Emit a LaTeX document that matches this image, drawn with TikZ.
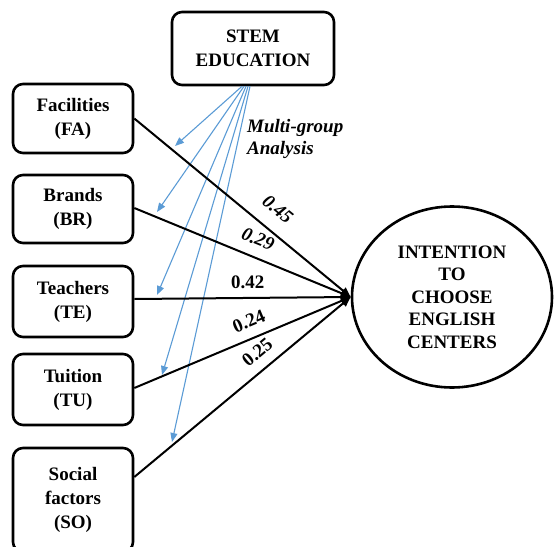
\documentclass[tikz,border=0pt]{standalone}
\usepackage{fontspec}
\setmainfont{Liberation Serif}
\usetikzlibrary{arrows.meta,shapes.geometric}
\definecolor{mgablue}{HTML}{5B9BD5}

\begin{document}
\begin{tikzpicture}[
  x=1pt, y=-1pt,
  font=\fontsize{19}{24}\selectfont\bfseries,
  factorbox/.style={draw, line width=2.6pt, rounded corners=10pt, minimum width=120pt, align=center, inner sep=0pt},
  intentellipse/.style={ellipse, draw, line width=2.6pt, minimum width=200pt, minimum height=181pt, align=center, inner sep=0pt, font=\fontsize{19}{22.5}\selectfont\bfseries},
  pathline/.style={line width=2pt, -{Triangle[length=10pt,width=8pt]}},
  groupline/.style={mgablue, line width=1.1pt, -{Triangle[length=9pt,width=7pt]}},
  coeflabel/.style={sloped, inner sep=0pt}
]
\useasboundingbox (0,0) rectangle (554,546);

% Moderator on top
\node[factorbox, minimum width=162pt, minimum height=73pt] (stem) at (253,48.5) {STEM\\EDUCATION};

% Factor boxes on the left
\node[factorbox, minimum height=69pt] (fa) at (73,118.5) {Facilities\\(FA)};
\node[factorbox, minimum height=68pt] (br) at (73,209) {Brands\\(BR)};
\node[factorbox, minimum height=71pt] (te) at (73,301.5) {Teachers\\(TE)};
\node[factorbox, minimum height=71pt] (tu) at (73,389.5) {Tuition\\(TU)};
\node[factorbox, minimum height=104pt] (so) at (73,500) {Social\\factors\\(SO)};

% Outcome ellipse
\node[intentellipse] (intent) at (452,297) {INTENTION\\TO\\CHOOSE\\ENGLISH\\CENTERS};

% Blue moderation arrows and their ends
\coordinate (mfa) at (175,146);
\coordinate (mbr) at (157,212);
\coordinate (mte) at (157,295);
\coordinate (mtu) at (162,375);
\coordinate (mso) at (172,442);
\foreach \dx/\dst in {-11/mfa, -9/mbr, -7/mte, -5/mtu, -3/mso}
  \draw[groupline] ([xshift=\dx pt]stem.south) -- (\dst);

\node[anchor=north west, align=left, inner sep=0pt, font=\fontsize{19}{22}\selectfont\bfseries\itshape] (mga) at (247,119) {Multi-group\\Analysis};

% Paths with coefficients
\draw[pathline] (fa.east) -- node[coeflabel, pos=0.60, above=14pt, font=\fontsize{19}{24}\selectfont\bfseries\itshape] {0.45} (intent.west);
\draw[pathline] ([yshift=1pt]br.east) -- node[coeflabel, pos=0.54, above=11pt, font=\fontsize{19}{24}\selectfont\bfseries\itshape] {0.29} (intent.west);
\draw[pathline] ([yshift=2.5pt]te.east) -- node[coeflabel, pos=0.525, above=8.6pt] {0.42} (intent.west);
\draw[pathline] ([yshift=1.5pt]tu.east) -- node[coeflabel, pos=0.56, above=9.6pt] {0.24} (intent.west);
\draw[pathline] ([yshift=23pt]so.east) -- node[coeflabel, pos=0.62, above=10pt] {0.25} (intent.west);

\end{tikzpicture}
\end{document}
